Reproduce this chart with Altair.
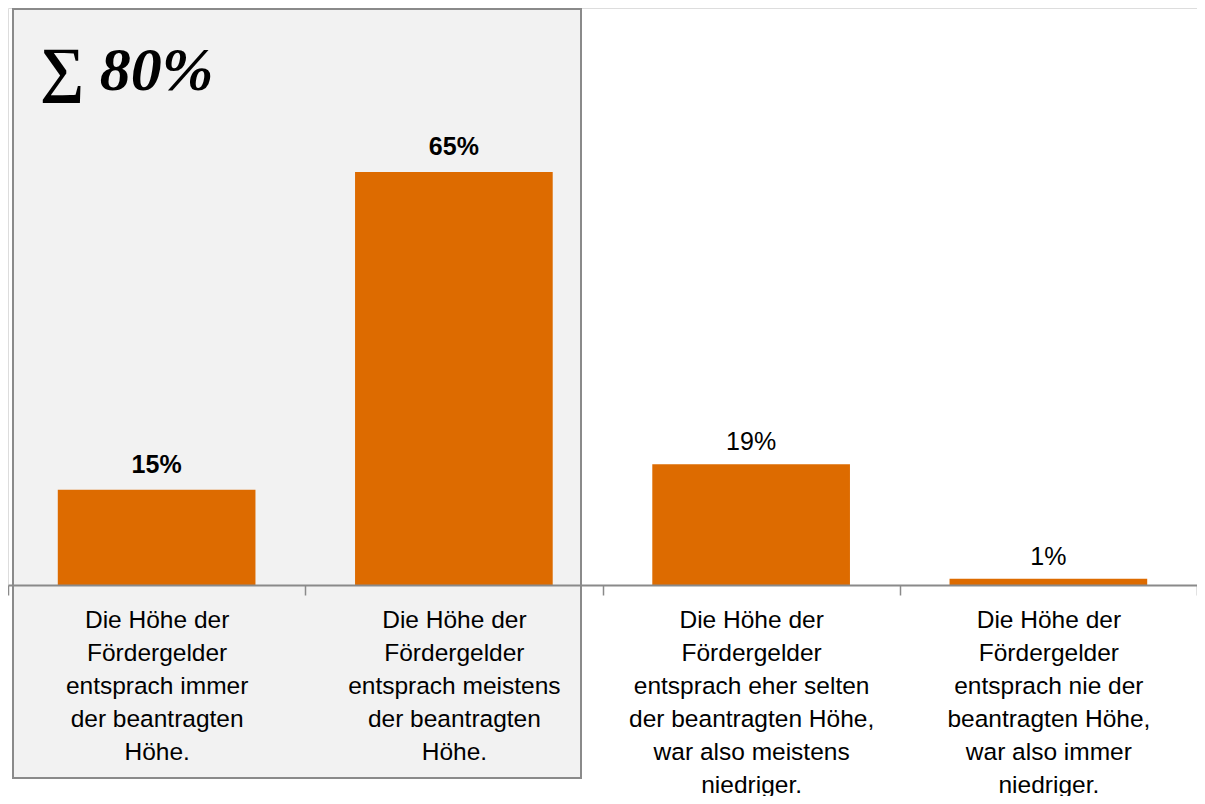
import altair as alt
import pandas as pd

categories = [
    "Die Höhe der|Fördergelder|entsprach immer|der beantragten|Höhe.",
    "Die Höhe der|Fördergelder|entsprach meistens|der beantragten|Höhe.",
    "Die Höhe der|Fördergelder|entsprach eher selten|der beantragten Höhe,|war also meistens|niedriger.",
    "Die Höhe der|Fördergelder|entsprach nie der|beantragten Höhe,|war also immer|niedriger.",
]
values = [15, 65, 19, 1]
labels = ["15%", "65%", "19%", "1%"]
bold = [True, True, False, False]
sum_text = ["∑ 80%"]

df = pd.DataFrame({"cat": categories, "val": values, "lab": labels, "bold": bold})
note = pd.DataFrame({"t": sum_text})

W, H = 1189, 577
ORANGE = "#DD6B00"
GRAY = "#8A8A8A"
FONT = "Liberation Sans"

x_enc = alt.X(
    "cat:N",
    sort=categories,
    scale=alt.Scale(paddingInner=0, paddingOuter=0),
    axis=alt.Axis(
        title=None,
        labelAngle=0,
        labelExpr="split(datum.label, '|')",
        labelFont=FONT,
        labelFontSize=24.5,
        labelColor="#000000",
        labelLineHeight=33,
        labelPadding=13,
        labelLimit=0,
        tickBand="extent",
        ticks=True,
        tickSize=10,
        tickColor=GRAY,
        tickWidth=1.5,
        domainColor=GRAY,
        domainWidth=2,
        zindex=1,
    ),
)
y_enc = alt.Y("val:Q", scale=alt.Scale(domain=[0, 90.8], nice=False, zero=True), axis=None)

base = alt.Chart(df)

box = alt.Chart(note).mark_rect(fill="#F2F2F2", stroke=GRAY, strokeWidth=2).encode(
    x=alt.value(5), x2=alt.value(573), y=alt.value(1), y2=alt.value(770)
)

bars = base.mark_bar(color=ORANGE, width=alt.RelativeBandSize(0.665)).encode(x=x_enc, y=y_enc)

txt_bold = base.transform_filter("datum.bold").mark_text(
    font=FONT, fontSize=25, fontWeight="bold", dy=-17, baseline="alphabetic", color="#000000"
).encode(x=x_enc, y=y_enc, text="lab:N")

txt_norm = base.transform_filter("!datum.bold").mark_text(
    font=FONT, fontSize=25, fontWeight="normal", dy=-14, baseline="alphabetic", color="#000000"
).encode(x=x_enc, y=y_enc, text="lab:N")

sigma = alt.Chart(note).mark_text(
    font="Liberation Serif", fontSize=62, fontWeight="bold", fontStyle="italic",
    align="left", baseline="alphabetic", color="#000000"
).encode(x=alt.value(32), y=alt.value(82), text="t:N")

chart = alt.layer(box, bars, txt_bold, txt_norm, sigma).properties(
    width=W, height=H,
    autosize=alt.AutoSizeParams(type="none"),
    padding={"left": 0, "top": 0, "right": 0, "bottom": 211},
).configure_view(stroke=None).configure(background="#FFFFFF")

chart.save("out.html", embed_options={"renderer": "svg", "actions": False})
